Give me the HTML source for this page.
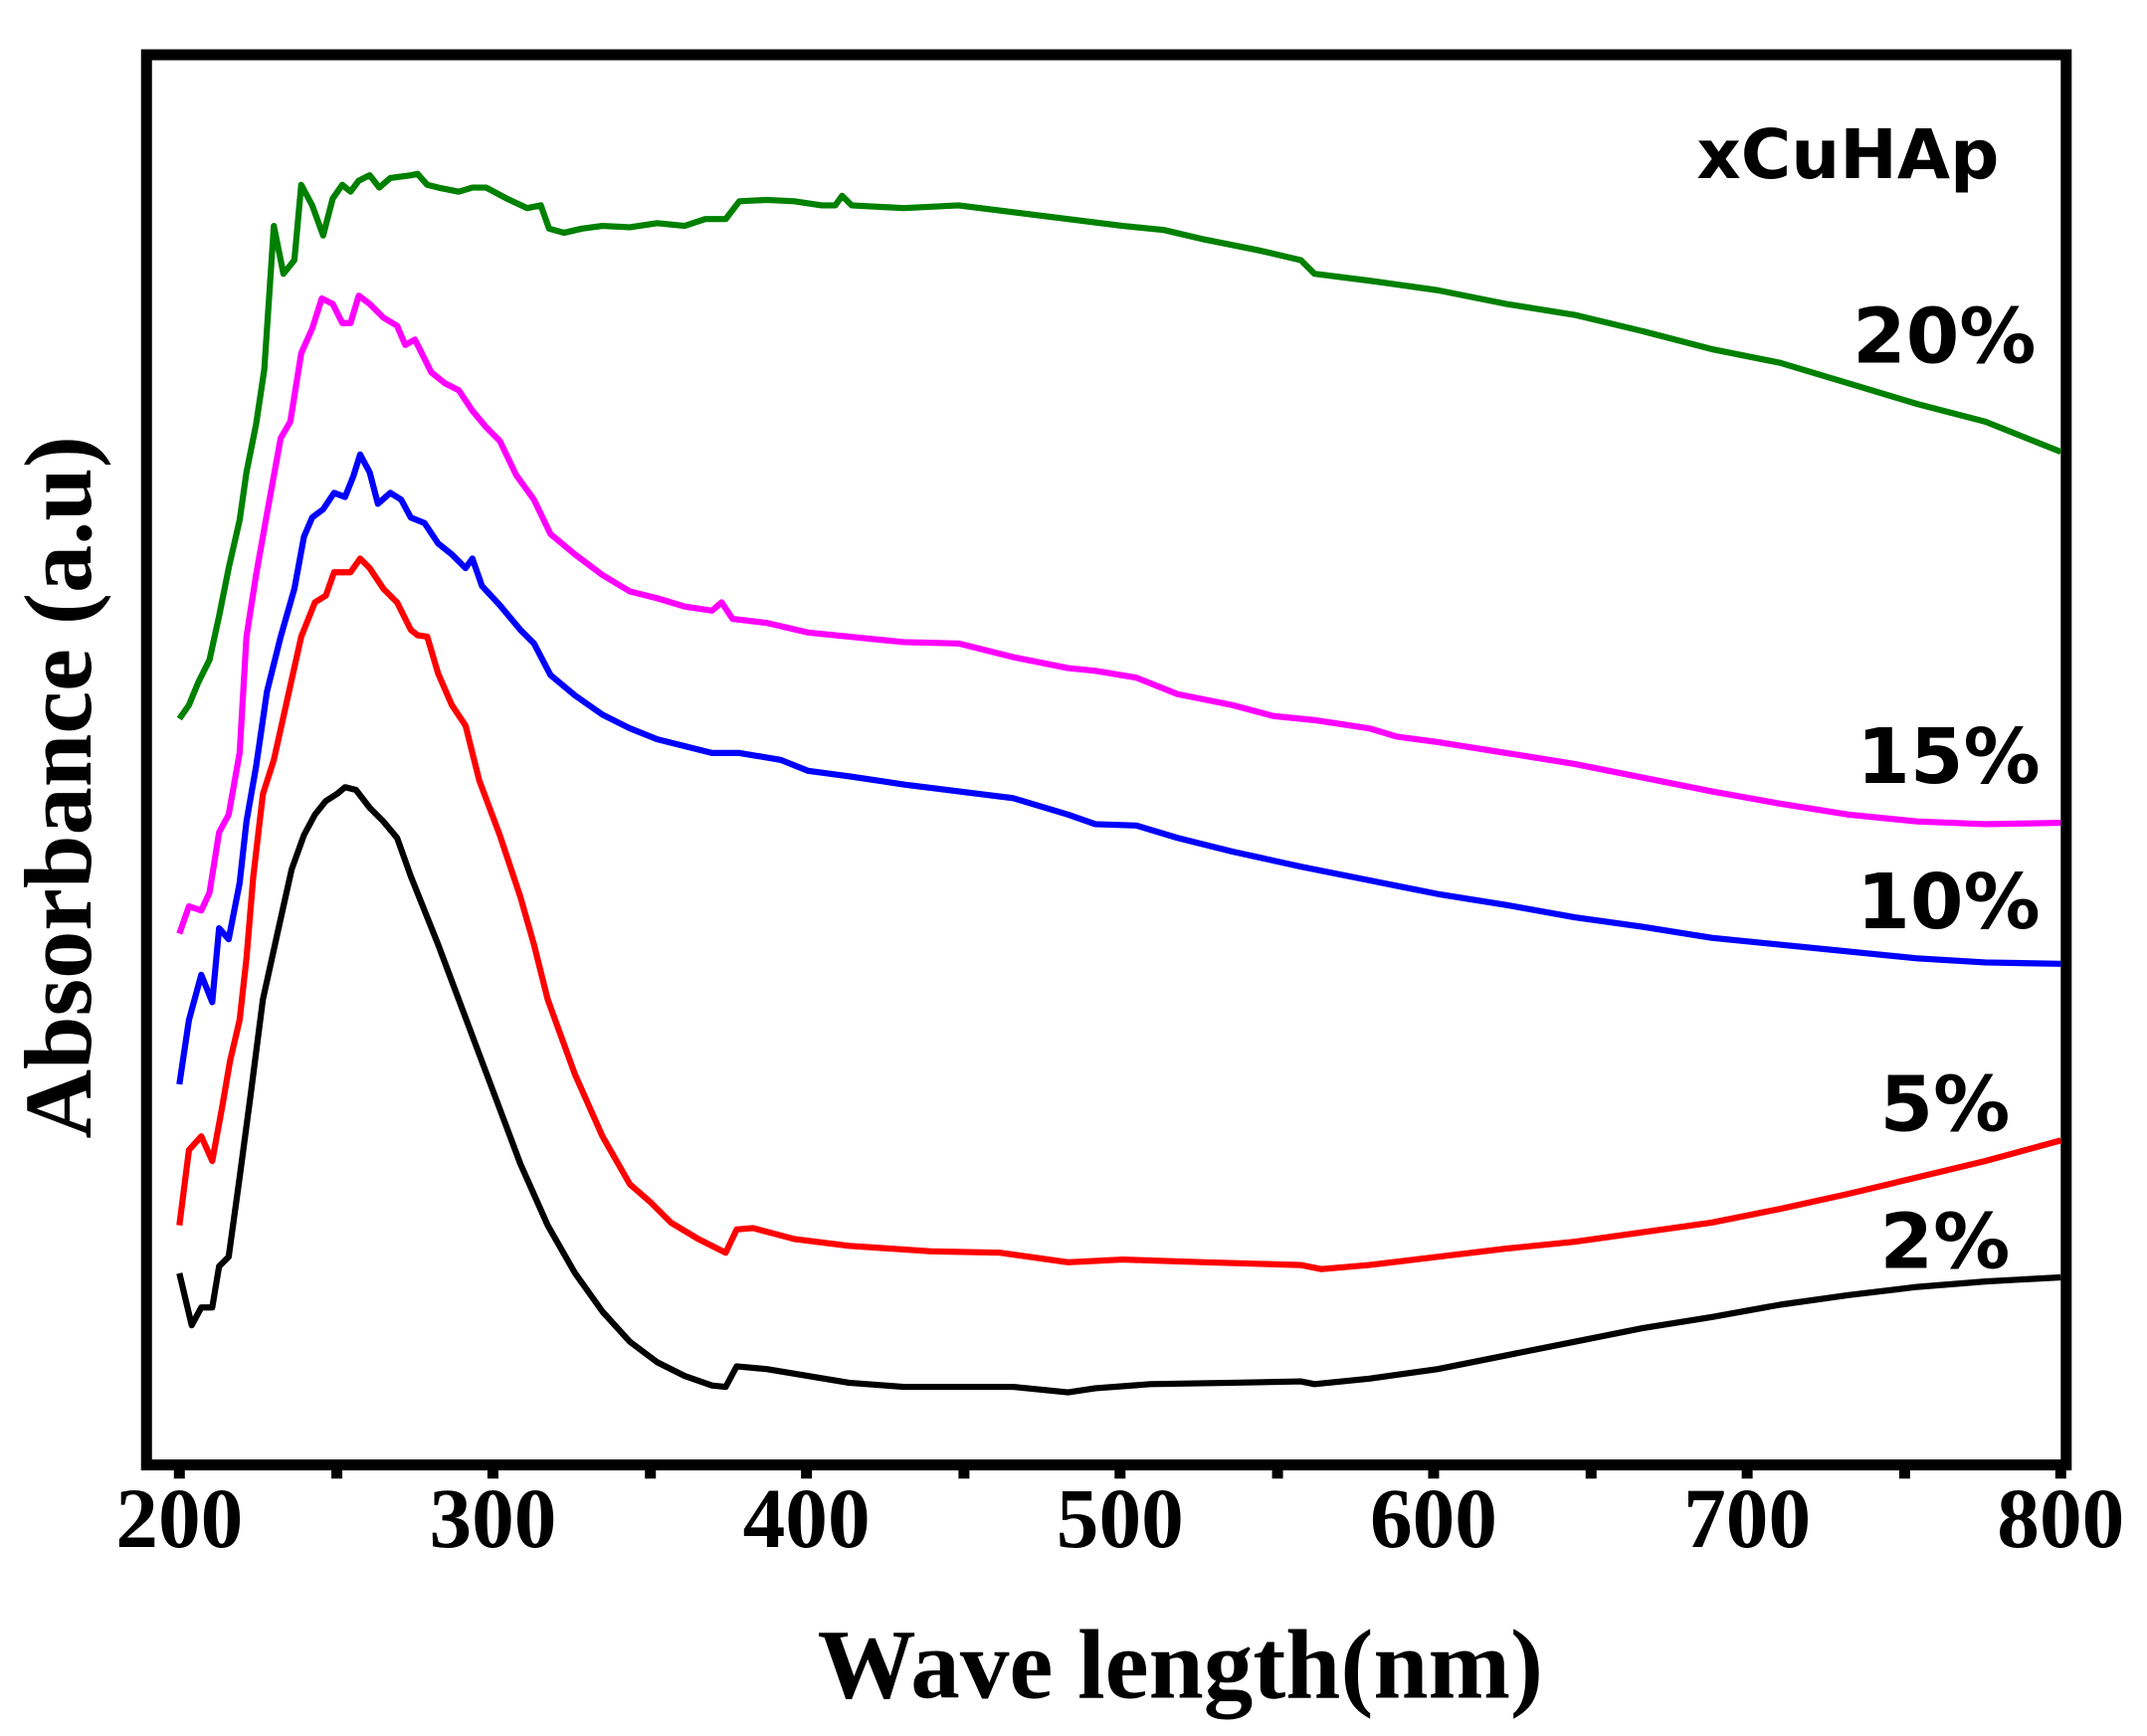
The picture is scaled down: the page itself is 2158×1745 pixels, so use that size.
<!DOCTYPE html>
<html><head><meta charset="utf-8"><style>html,body{margin:0;padding:0;background:#fff}svg{display:block}</style></head>
<body>
<svg width="2158" height="1745" viewBox="0 0 1568 1268" preserveAspectRatio="none" xmlns="http://www.w3.org/2000/svg">
<rect x="0" y="0" width="1568" height="1268" fill="#fff"/>
<rect x="107" y="40" width="1402" height="1030" fill="none" stroke="#000" stroke-width="8"/>
<g stroke="#000" stroke-width="8">
<line x1="131" y1="1070" x2="131" y2="1080"/><line x1="246" y1="1070" x2="246" y2="1080"/>
<line x1="360" y1="1070" x2="360" y2="1080"/><line x1="475" y1="1070" x2="475" y2="1080"/>
<line x1="589" y1="1070" x2="589" y2="1080"/><line x1="704" y1="1070" x2="704" y2="1080"/>
<line x1="818" y1="1070" x2="818" y2="1080"/><line x1="933" y1="1070" x2="933" y2="1080"/>
<line x1="1047" y1="1070" x2="1047" y2="1080"/><line x1="1162" y1="1070" x2="1162" y2="1080"/>
<line x1="1276" y1="1070" x2="1276" y2="1080"/><line x1="1391" y1="1070" x2="1391" y2="1080"/>
<line x1="1505" y1="1070" x2="1505" y2="1080"/>
</g>
<g font-family="Liberation Serif, serif" font-weight="bold" font-size="62" text-anchor="middle" fill="#000">
<text x="131" y="1130">200</text><text x="360" y="1130">300</text><text x="589" y="1130">400</text>
<text x="818" y="1130">500</text><text x="1047" y="1130">600</text><text x="1276" y="1130">700</text><text x="1505" y="1130">800</text>
<text x="862" y="1240" font-size="72">Wave length(nm)</text>
<text transform="translate(66,575) rotate(-90)" font-size="70">Absorbance (a.u)</text>
</g>
<g font-family="DejaVu Sans, sans-serif" font-weight="bold" font-size="50" fill="#000" text-anchor="end">
<text x="1460" y="130">xCuHAp</text>
<text x="1487" y="265" font-size="56">20%</text>
<text x="1490" y="572" font-size="56">15%</text>
<text x="1490" y="678" font-size="56">10%</text>
<text x="1468" y="826" font-size="56">5%</text>
<text x="1468" y="926" font-size="56">2%</text>
</g>
<g fill="none" stroke-width="4.5" stroke-linejoin="round">
<polyline stroke="#000" points="131,930 140,968 147,955 155,955 160,925 167,918 175,860 183,800 192,730 203,680 213,635 222,610 230,595 238,585 246,580 252,575 260,577 270,590 280,600 290,612 300,640 310,665 320,690 335,730 350,770 365,810 380,850 400,895 420,930 440,958 460,980 480,995 500,1005 520,1012 530,1013 538,998 560,1000 590,1005 620,1010 660,1013 700,1013 740,1013 780,1017 800,1014 840,1011 900,1010 950,1009 960,1011 1000,1007 1050,1000 1100,990 1150,980 1200,970 1250,962 1300,953 1350,946 1400,940 1450,936 1505,933"/>
<polyline stroke="#ff0000" points="131,895 138,840 147,830 155,848 162,810 168,775 175,745 180,700 185,640 192,580 200,555 210,510 220,465 230,440 238,435 244,418 256,418 263,408 270,415 280,430 290,440 300,460 305,464 312,465 320,492 330,515 340,530 350,570 365,610 380,655 390,690 400,730 420,785 440,830 460,865 475,878 490,893 510,905 530,915 538,898 550,897 580,905 620,910 680,914 730,915 780,922 820,920 880,922 950,924 965,927 1000,924 1050,918 1100,912 1150,907 1200,900 1250,893 1300,883 1350,872 1400,860 1450,848 1505,833"/>
<polyline stroke="#0000ff" points="131,792 138,745 147,712 155,732 160,678 167,686 175,645 180,600 187,560 195,505 205,465 215,430 222,392 228,378 236,372 244,360 252,363 258,348 263,332 270,345 276,368 285,360 293,365 300,378 310,382 320,397 330,405 340,415 345,408 352,428 365,442 380,460 390,470 402,493 420,508 440,522 460,532 480,540 500,545 520,550 540,550 570,555 590,563 620,567 660,573 700,578 740,583 780,595 800,602 830,603 860,612 900,622 950,633 1000,643 1050,653 1100,661 1150,670 1200,677 1250,685 1300,690 1350,695 1400,700 1450,703 1505,704"/>
<polyline stroke="#ff00ff" points="131,682 138,662 147,665 153,652 160,608 167,595 175,550 180,465 187,420 195,375 205,320 212,308 220,258 228,240 235,218 243,222 250,236 256,236 262,216 270,222 280,232 290,238 296,252 303,248 315,272 325,280 335,285 345,300 355,312 365,322 377,347 390,365 402,390 420,405 440,420 460,432 480,437 500,443 520,446 527,440 535,452 560,455 590,462 620,465 660,469 700,470 740,480 780,488 800,490 830,495 860,507 900,515 930,523 960,526 1000,532 1020,538 1050,542 1100,550 1150,558 1200,568 1250,578 1300,587 1350,595 1400,600 1450,602 1505,601"/>
<polyline stroke="#008000" points="131,525 138,515 145,498 153,482 160,450 167,415 175,380 180,345 187,310 193,270 200,165 207,200 215,190 220,135 228,150 236,172 243,145 250,135 256,140 262,132 270,128 277,137 285,130 300,128 305,127 312,135 320,137 335,140 345,137 355,137 370,145 385,152 395,150 401,167 412,170 425,167 440,165 460,166 480,163 500,165 515,160 530,160 540,147 560,146 580,147 600,150 610,150 615,143 622,150 660,152 700,150 740,155 780,160 820,165 850,168 880,175 920,183 950,190 960,200 1000,205 1050,212 1100,222 1150,230 1200,242 1250,255 1300,265 1350,280 1400,295 1450,308 1505,330"/>
</g>
</svg>
</body></html>
